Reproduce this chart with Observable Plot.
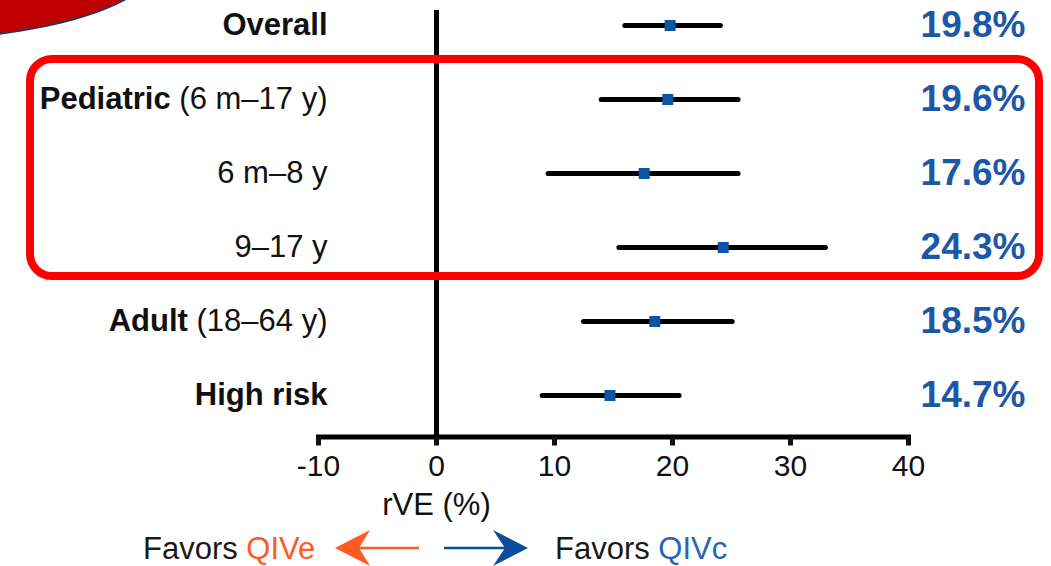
<!DOCTYPE html>
<html>
<head>
<meta charset="utf-8">
<script src="https://cdn.jsdelivr.net/npm/d3@7"></script>
<script src="https://cdn.jsdelivr.net/npm/@observablehq/plot@0.6"></script>
<style>
  html, body { margin: 0; padding: 0; background: #fff; }
  #page { position: relative; width: 1051px; height: 566px; overflow: hidden;
          font-family: "Liberation Sans", Arial, Helvetica, sans-serif; }
  #chart svg { display: block; }
  /* red slide accent in the top-left corner */
  .accent { position: absolute; left: -360px; top: -121px; width: 520px; height: 162px;
            border-radius: 50%; background: #c00000; border: 2px solid #1f3864; box-sizing: border-box; }
  /* highlight box around the pediatric subgroups */
  .highlight { position: absolute; left: 26px; top: 55px; width: 1017px; height: 225px;
               border: 8px solid #ff0000; border-radius: 26px; box-sizing: border-box; pointer-events: none; }
  #legend { position: relative; width: 1051px; height: 44px; }
  #legend .lg { position: absolute; top: 11px; font-size: 31px; line-height: 31px; color: #1a1a1a; white-space: pre; }
  #legend svg { position: absolute; left: 0; top: 0; }
</style>
</head>
<body>
<div id="page">
  <div id="chart"></div>
  <div id="legend">
    <span class="lg" style="left:143px">Favors <span style="color:#ff5a1f">QIVe</span></span>
    <svg width="1051" height="44">
      <line x1="359" y1="26" x2="419" y2="26" stroke="#ff5a1f" stroke-width="2.5"/>
      <polygon points="335,26 370,8 359,26 370,44" fill="#ff5a1f"/>
      <line x1="444" y1="26" x2="505" y2="26" stroke="#0a4d9e" stroke-width="2.5"/>
      <polygon points="528,26 493,8 505,26 493,44" fill="#0a4d9e"/>
    </svg>
    <span class="lg" style="left:555px">Favors <span style="color:#2a62b8">QIVc</span></span>
  </div>
  <div class="accent"></div>
  <div class="highlight"></div>
</div>
<script>
// Relative vaccine effectiveness (rVE, %) of QIVc vs QIVe by subgroup
const groups    = ["Overall", "Pediatric (6 m–17 y)", "6 m–8 y", "9–17 y", "Adult (18–64 y)", "High risk"];
const boldPart  = ["Overall", "Pediatric", "", "", "Adult", "High risk"];
const plainPart = ["", " (6 m–17 y)", "6 m–8 y", "9–17 y", " (18–64 y)", ""];
const rve       = [19.8, 19.6, 17.6, 24.3, 18.5, 14.7];
const ciLow     = [16.0, 14.0, 9.5, 15.5, 12.5, 9.0];
const ciHigh    = [24.1, 25.6, 25.6, 33.0, 25.1, 20.6];
const xTicks    = [-10, 0, 10, 20, 30, 40];
const axisLabel = "rVE (%)";

const rows = groups.map((g, i) => ({
  group: g, rve: rve[i], lo: ciLow[i], hi: ciHigh[i]
}));

const H = 522;
const chart = Plot.plot({
  width: 1051,
  height: H,
  marginLeft: 318,
  marginRight: 143,
  marginTop: 10,
  marginBottom: H - 436.5,
  style: { fontFamily: '"Liberation Sans", Arial, Helvetica, sans-serif', background: "transparent", overflow: "visible" },
  x: { domain: [-10, 40] },
  y: { type: "point", domain: groups, padding: 0, insetTop: 14, insetBottom: 40.5, axis: null },
  marks: [
    Plot.frame({ anchor: "bottom", stroke: "#000", strokeWidth: 5 }),
    Plot.ruleX([0], { stroke: "#000", strokeWidth: 5 }),
    Plot.axisX({
      ticks: xTicks, tickSize: 9, tickPadding: 9, strokeWidth: 5, color: "#111",
      fontSize: 30, label: null, tickFormat: d => String(d)
    }),
    Plot.text([axisLabel], {
      x: 0, frameAnchor: "bottom", lineAnchor: "middle", dy: 68, fontSize: 31, fill: "#111"
    }),
    Plot.ruleY(rows, { y: "group", x1: "lo", x2: "hi", stroke: "#000", strokeWidth: 5, strokeLinecap: "round" }),
    Plot.dot(rows, { x: "rve", y: "group", symbol: "square", r: 6.2, fill: "#0b55a5" }),
    Plot.text(rows, {
      y: "group", text: "group", frameAnchor: "left", textAnchor: "end", dx: 9,
      fontSize: 31, fill: "#111", ariaDescription: "group labels"
    }),
    Plot.text(rows, {
      y: "group", text: d => d.rve.toFixed(1) + "%", frameAnchor: "right", textAnchor: "end", dx: 117,
      fontSize: 37, fontWeight: "bold", fill: "#1c58a6"
    })
  ]
});

// subgroup names in bold, age ranges in regular weight
d3.select(chart).selectAll('g[aria-description="group labels"] text').each(function (_, i) {
  const el = d3.select(this);
  el.text(null).style("white-space", "pre");
  if (boldPart[i]) el.append("tspan").attr("font-weight", "bold").text(boldPart[i]);
  if (plainPart[i]) el.append("tspan").text(plainPart[i]);
});

document.getElementById("chart").appendChild(chart);
</script>
</body>
</html>
